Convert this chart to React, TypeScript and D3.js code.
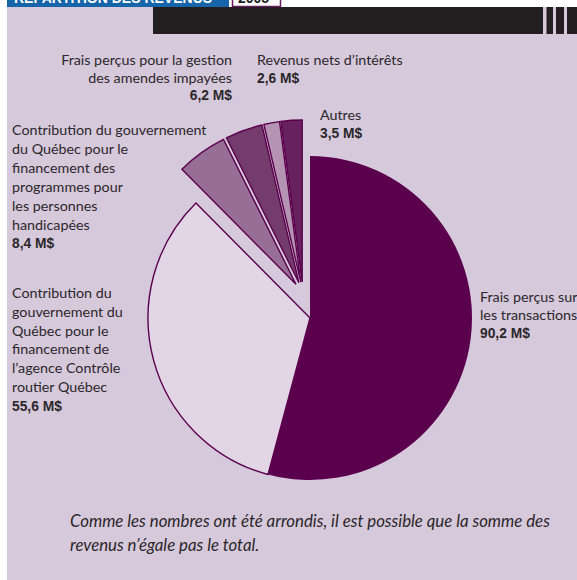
import * as d3 from "d3"

const categories = [
  "Frais perçus sur les transactions",
  "Contribution du gouvernement du Québec pour le financement de l’agence Contrôle routier Québec",
  "Contribution du gouvernement du Québec pour le financement des programmes pour les personnes handicapées",
  "Frais perçus pour la gestion des amendes impayées",
  "Revenus nets d’intérêts",
  "Autres",
]
const values = [90.2, 55.6, 8.4, 6.2, 2.6, 3.5]
const labelLines = [
  ["Frais perçus sur", "les transactions"],
  ["Contribution du", "gouvernement du", "Québec pour le", "financement de", "l’agence Contrôle", "routier Québec"],
  ["Contribution du gouvernement", "du Québec pour le", "financement des", "programmes pour", "les personnes", "handicapées"],
  ["Frais perçus pour la gestion", "des amendes impayées"],
  ["Revenus nets d’intérêts"],
  ["Autres"],
]
const note = [
  "Comme les nombres ont été arrondis, il est possible que la somme des",
  "revenus n’égale pas le total.",
]
const title = "RÉPARTITION DES REVENUS"
const year = "2005"

// styles / layout
const colors = ["#5b004c", "#e2d5e6", "#976f96", "#743b6d", "#b593b3", "#66215e"]
const exploded = [false, false, true, true, true, true]
const labelPos = [
  { x: 480, y: 302, anchor: "start", lh: 18 },
  { x: 12, y: 298, anchor: "start", lh: 18.8 },
  { x: 12, y: 135, anchor: "start", lh: 18.9 },
  { x: 232, y: 65, anchor: "end", lh: 17.6 },
  { x: 257, y: 65, anchor: "start", lh: 18 },
  { x: 320, y: 120, anchor: "start", lh: 18 },
]

const W = 577
const H = 580
const cx = 310
const cy = 318
const R = 162
const bg = "#d6c9db"
const outline = "#5b004c"
const textColor = "#2b272a"

const fmt = (v: number) => d3.format(".1f")(v).replace(".", ",") + " M$"

export default function App() {
  const pie = d3.pie<number>().sort(null).value(d => d)
  const arcs = pie(values)
  const arc = d3.arc<d3.PieArcDatum<number>>().innerRadius(0).outerRadius(R)

  const offset = (d: d3.PieArcDatum<number>, i: number) => {
    if (!exploded[i]) return [0, 0]
    const mid = (d.startAngle + d.endAngle) / 2
    return [-7 + 12 * Math.sin(mid), -24 - 12 * Math.cos(mid)]
  }

  return (
    <svg width={W} height={H} style={{ position: "absolute", left: 0, top: 0 }}>
      <rect x={0} y={0} width={W} height={H} fill="#fff" />
      <rect x={7} y={7} width={W - 7} height={H - 7} fill={bg} />

      {/* header strip, cut at the top */}
      <rect x={7} y={0} width={222} height={7} fill="#1565a8" />
      <text x={14} y={2.5} fill="#fff" fontFamily="Liberation Sans" fontWeight="bold" fontSize={14}>{title}</text>
      <rect x={232.5} y={-2} width={48} height={8.5} fill="#fff" stroke="#6a1b63" strokeWidth={1.5} />
      <text x={238} y={2.5} fill="#222" fontFamily="Liberation Sans" fontWeight="bold" fontSize={14}>{year}</text>
      <rect x={153} y={7} width={390} height={27} fill="#231f20" />
      <rect x={546.5} y={7} width={6.5} height={27} fill="#231f20" />
      <rect x={556} y={7} width={8} height={27} fill="#231f20" />
      <rect x={567} y={7} width={10} height={27} fill="#231f20" />

      <g transform={`translate(${cx},${cy})`}>
        {arcs.map((d, i) => {
          const [dx, dy] = offset(d, i)
          return (
            <path
              key={categories[i]}
              d={arc(d) ?? ""}
              transform={`translate(${dx},${dy})`}
              fill={colors[i]}
              stroke={outline}
              strokeWidth={i === 0 ? 0 : 1.4}
              strokeLinejoin="miter"
            />
          )
        })}
      </g>

      {labelLines.map((lines, i) => {
        const p = labelPos[i]
        return (
          <g key={i}>
            <text x={p.x} y={p.y} textAnchor={p.anchor} fill={textColor} fontFamily="Lato, 'Noto Sans', sans-serif" fontSize={14.3}>
              {lines.map((l, j) => (
                <tspan key={j} x={p.x} y={p.y + j * p.lh}>{l}</tspan>
              ))}
            </text>
            <text
              x={p.x}
              y={p.y + lines.length * p.lh}
              textAnchor={p.anchor}
              fill={textColor}
              fontFamily="'Liberation Sans Narrow', 'Liberation Sans', sans-serif"
              fontWeight="bold"
              fontSize={13.8}
            >
              {fmt(values[i])}
            </text>
          </g>
        )
      })}

      <text fill="#2a2628" fontFamily="Lato, 'Noto Sans', sans-serif" fontStyle="italic" fontSize={16.8}>
        {note.map((l, j) => (
          <tspan key={j} x={70} y={527 + j * 24}>{l}</tspan>
        ))}
      </text>
    </svg>
  )
}
